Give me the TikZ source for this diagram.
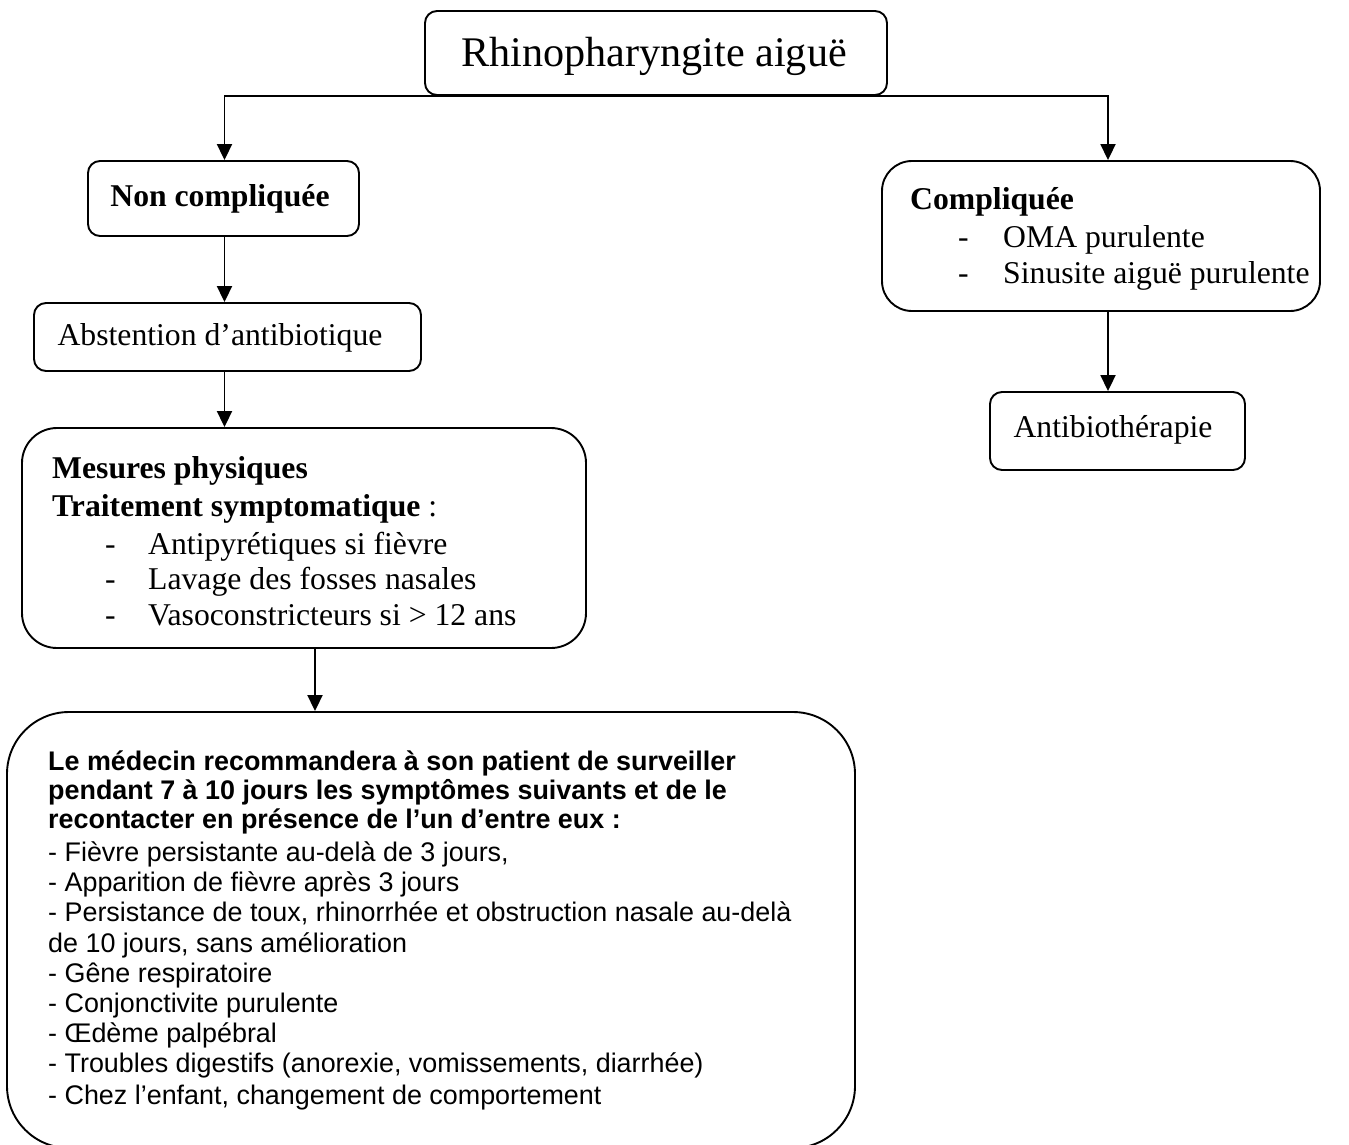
\documentclass[tikz,border=0pt]{standalone}
\usepackage{fontspec}
\setmainfont{Liberation Serif}
\newfontfamily\arialf{Liberation Sans}
\usetikzlibrary{arrows.meta,calc}
\tikzset{
  box/.style={draw, line width=1.9pt, rounded corners=12pt, inner sep=0pt},
  arr/.style={line width=1.9pt, -{Triangle[width=15pt,length=16pt]}},
  tnr/.style={inner sep=0pt, anchor=base west, font=\fontsize{31.7}{36}\selectfont},
  tnrc/.style={inner sep=0pt, font=\fontsize{31.7}{36}\selectfont},
  ari/.style={inner sep=0pt, anchor=base west, font=\arialf\fontsize{26.9}{30}\selectfont},
  arib/.style={inner sep=0pt, anchor=base west, font=\arialf\bfseries\fontsize{26.9}{30}\selectfont}
}
\begin{document}
\begin{tikzpicture}[x=1pt,y=-1pt]
\useasboundingbox (0,0) rectangle (1349,1144);
% boxes
\node[box, minimum width=462pt, minimum height=84pt] (top) at (656,53) {};
\node[inner sep=0pt, font=\fontsize{42.2}{48}\selectfont] (toptxt) at (654,56) {Rhinopharyngite aiguë};

\node[box, minimum width=271pt, minimum height=75pt] (nc) at (223.5,198.5) {};
\node[tnrc, font=\bfseries\fontsize{31.7}{36}\selectfont] (nctxt) at (220,199) {Non compliquée};

\node[box, rounded corners=30pt, minimum width=438pt, minimum height=150pt] (comp) at (1101,236) {};
\node[tnr, font=\bfseries\fontsize{31.7}{36}\selectfont] (c1) at (910,209) {Compliquée};
\node[tnr] (c2d) at (958,247) {-};
\node[tnr] (c2) at (1003,247) {OMA purulente};
\node[tnr] (c3d) at (958,283) {-};
\node[tnr] (c3) at (1003,283) {Sinusite aiguë purulente};

\node[box, minimum width=255pt, minimum height=78pt] (anti) at (1117.5,431) {};
\node[tnrc] (antitxt) at (1113,430) {Antibiothérapie};

\node[box, minimum width=387pt, minimum height=68pt] (abst) at (227.5,337) {};
\node[tnrc] (absttxt) at (220,338) {Abstention d’antibiotique};

\node[box, rounded corners=35pt, minimum width=564pt, minimum height=220pt] (mes) at (304,538) {};
\node[tnr, font=\bfseries\fontsize{31.7}{36}\selectfont] (m1) at (52,478) {Mesures physiques};
\node[tnr] (m2) at (52,516) {\textbf{Traitement symptomatique} :};
\node[tnr] (m3d) at (105,554) {-};
\node[tnr] (m3) at (148,554) {Antipyrétiques si fièvre};
\node[tnr] (m4d) at (105,589) {-};
\node[tnr] (m4) at (148,589) {Lavage des fosses nasales};
\node[tnr] (m5d) at (105,625) {-};
\node[tnr] (m5) at (148,625) {Vasoconstricteurs si > 12 ans};

\node[box, rounded corners=62pt, minimum width=848pt, minimum height=436pt] (bot) at (431,930) {};
\node[arib] (b1) at (48,770) {Le médecin recommandera à son patient de surveiller};
\node[arib] (b2) at (48,799) {pendant 7 à 10 jours les symptômes suivants et de le};
\node[arib] (b3) at (48,828) {recontacter en présence de l’un d’entre eux :};
\node[ari] (b4) at (48,861) {- Fièvre persistante au-delà de 3 jours,};
\node[ari] (b5) at (48,891) {- Apparition de fièvre après 3 jours};
\node[ari] (b6) at (48,921) {- Persistance de toux, rhinorrhée et obstruction nasale au-delà};
\node[ari] (b7) at (48,952) {de 10 jours, sans amélioration};
\node[ari] (b8) at (48,982) {- Gêne respiratoire};
\node[ari] (b9) at (48,1012) {- Conjonctivite purulente};
\node[ari] (b10) at (48,1042) {- Œdème palpébral};
\node[ari] (b11) at (48,1072) {- Troubles digestifs (anorexie, vomissements, diarrhée)};
\node[ari] (b12) at (48,1104) {- Chez l’enfant, changement de comportement};

% connectors
\draw[arr] (top.south) -| ([xshift=1pt]nc.north);
\draw[arr] (top.south) -| ([xshift=7pt]comp.north);
\draw[arr] ([xshift=1pt]nc.south) -- ([xshift=1pt]nc.south |- abst.north);
\draw[arr] ([xshift=1pt]abst.south -| nc.south) -- ([xshift=1pt]mes.north -| nc.south);
\draw[arr] ([xshift=11pt]mes.south) -- ([xshift=11pt]mes.south |- bot.north);
\draw[arr] ([xshift=7pt]comp.south) -- ([xshift=7pt]comp.south |- anti.north);
\end{tikzpicture}
\end{document}
